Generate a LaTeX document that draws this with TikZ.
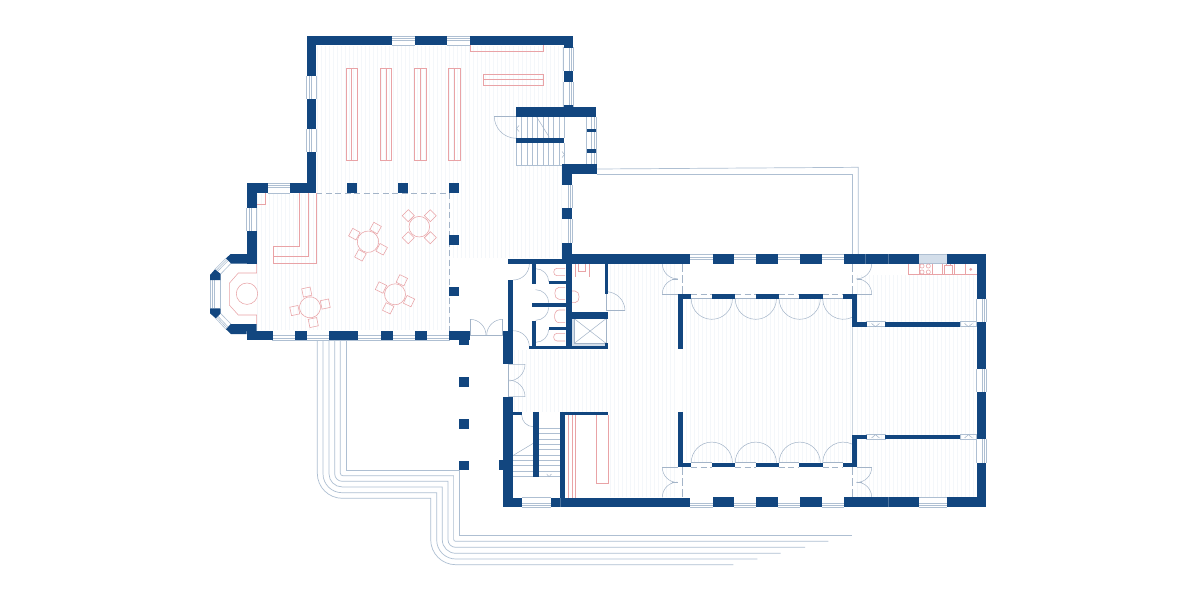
\documentclass[tikz,border=0pt]{standalone}
\definecolor{wall}{HTML}{12467F}
\definecolor{thin}{HTML}{AEBFD2}
\definecolor{doorc}{HTML}{A3B4C8}
\definecolor{rd}{HTML}{E9A3A6}
\definecolor{hatchc}{HTML}{F4F7FA}
\definecolor{glassf}{HTML}{D3DEEA}
\tikzset{
  wl/.style={fill=wall,draw=none},
  win/.style={draw=thin,line width=.6pt},
  door/.style={draw=doorc,line width=.5pt},
  red/.style={draw=rd,line width=.55pt},
  garden/.style={draw=thin,line width=.7pt},
  dsh/.style={draw=doorc,line width=.6pt,dash pattern=on 6pt off 3.5pt},
  hat/.style={draw=hatchc,line width=.3pt}
}
\newcommand\W[4]{\fill[wl] (#1,#2) rectangle (#3,#4);}
\newcommand\HW[4]{\foreach \k in {0,1,2}{\draw[win] (#1,{#3+#4*\k*2.2}) -- (#2,{#3+#4*\k*2.2});}}
\newcommand\VW[4]{\foreach \k in {0,1,2}{\draw[win] ({#3+#4*\k*2.2},#1) -- ({#3+#4*\k*2.2},#2);}}
\newcommand\HAT[4]{\pgfmathtruncatemacro\hn{(#3-#1)/4}\foreach \i in {0,...,\hn}{\draw[hat] ({#1+\i*4},#2) -- ({#1+\i*4},#4);}}
\newcommand\GL[7]{\draw[garden] (#1,340) -- (#1,{#2-#6}) arc[start angle=180,end angle=90,radius=#6] -- (#3,#2) -- (#3,{#4-#7}) arc[start angle=180,end angle=90,radius=#7] -- (#5,#4);}
\newcommand\TB[4]{\begin{scope}[shift={(#1,#2)},rotate=#3]
 \draw[red] (0,0) circle (#4);
 \foreach \a in {0,90,180,270}{\draw[red,rotate=\a] (11.4,-4.3) rectangle (19.8,4.3);}
 \end{scope}}
\begin{document}
\begin{tikzpicture}[x=1pt,y=1pt,yscale=-1]
\useasboundingbox (0,0) rectangle (1200,600);
\fill[white] (0,0) rectangle (1200,600);
% --- floor hatching ---
\HAT{317}{46}{514}{193}
\HAT{518}{46}{562}{107}
\HAT{257}{194}{449}{330}
\HAT{453}{166}{561}{258}
\HAT{514}{350}{676}{412}
\HAT{610}{264}{676}{350}
\HAT{610}{412}{676}{497}
\HAT{682}{299}{850}{462}
\HAT{857}{275}{976}{497}
% --- garden lines ---
\GL{340.3}{475.7}{453.6}{541.3}{828.3}{2.5}{2}
\GL{334.7}{481.3}{448}{547.3}{805}{7.5}{7.5}
\GL{329}{486.9}{442.3}{553.3}{780.7}{13}{13.5}
\GL{323}{492.7}{436.7}{559}{757.3}{19}{19}
\GL{317.3}{498.3}{430.7}{564.7}{733.3}{25}{25}
\draw[garden] (346,340) -- (346,470.3) -- (459.5,470.3) -- (459.5,535.3) -- (852.3,535.3);
\draw[garden] (596.7,169) -- (858.3,167.3) -- (858.3,254);
\draw[garden] (596.7,174.3) -- (852.3,174.3) -- (852.3,254);
% --- windows: north wing ---
\HW{392}{415}{36}{1}\draw[win] (392,45.3)--(415,45.3);
\HW{447}{470}{36}{1}\draw[win] (447,45.3)--(470,45.3);
\VW{76}{99}{306.7}{1}\draw[win] (316.3,76)--(316.3,99);
\VW{129}{152}{306.7}{1}\draw[win] (316.3,129)--(316.3,152);
\VW{47}{71}{573.3}{-1}\draw[win] (563.7,47)--(563.7,71);
\VW{82}{107}{573.3}{-1}\draw[win] (563.7,82)--(563.7,107);
\VW{117}{165}{596}{-1}\draw[win] (586.7,117)--(586.7,165);
\VW{185}{208.3}{568.3}{1}
\VW{219.3}{242.7}{568.3}{1}
% --- windows: west wing ---
\HW{267.7}{290.3}{183.3}{1}\draw[win] (267.7,193.3)--(290.3,193.3);
\VW{208}{231}{246.7}{1}\draw[win] (256.7,208)--(256.7,231);
\VW{280}{308.3}{210}{1}\draw[win] (220.7,280)--(220.7,308.3);
\foreach \t in {0,.22,.44,1}{
 \draw[win] ({215+\t*5.7},{269.3+\t*4.7}) -- ({226+\t*5},{258.3+\t*5});
 \draw[win] ({215.7+\t*5},{318.3-\t*4.8}) -- ({226+\t*5},{329.3-\t*5.2});
}
\HW{272}{449.5}{340}{-1}
% --- windows: main hall ---
\foreach \a/\b in {690/712.7,734/756.3,777.7/800.3,821.7/844.3}{
 \HW{\a}{\b}{254.7}{1}
 \HW{\a}{\b}{507.3}{-1}
}
\fill[glassf] (918.7,254) rectangle (947,262.7);
\draw[win] (918.7,254)--(947,254) (918.7,263.7)--(947,263.7);
\HW{918.7}{947}{507.3}{-1}\draw[win] (918.7,497.3)--(947,497.3);
\HW{522.3}{550.7}{507.3}{-1}\draw[win] (522.3,497.7)--(550.7,497.7);
\VW{298.7}{321.7}{986.3}{-1}\draw[win] (976.7,298.7)--(976.7,321.7);
\VW{369}{392}{986.3}{-1}\draw[win] (976.7,369)--(976.7,392);
\VW{439.3}{462.7}{986.3}{-1}\draw[win] (976.7,439.3)--(976.7,462.7);
% internal windows
\foreach \xa/\xb in {866.7/885,960/976.7}{
  \draw[win,line width=.45pt] (\xa,321.7) rectangle (\xb,326.7);
  \draw[win,line width=.45pt] (\xa,434.7) rectangle (\xb,439.3);
}
\foreach \xm in {875.5,968.5}{
  \draw[door] (\xm-4,323.4) -- (\xm,326.7) -- (\xm+4,323.4);
  \draw[door] (\xm-4,438) -- (\xm,434.7) -- (\xm+4,438);
}
% thin lines / dashed in hall
\foreach \a/\b in {691.3/712,735/755.7,778.7/799.3,822.7/843.3}{
 \draw[door] (\a,298.7)--(\b,298.7);
 \draw[door] (\a,462.7)--(\b,462.7);
 \draw[dsh] (\a,294.3)--(\b,294.3);
 \draw[dsh] (\a,467.3)--(\b,467.3);
}
\draw[draw=glassf!90!gray,line width=.9pt] (852.2,326) -- (852.2,435);
\draw[dsh,dash pattern=on 8pt off 3pt] (682.3,264)--(682.3,294);
\draw[dsh,dash pattern=on 8pt off 3pt] (682.3,467)--(682.3,497);
\draw[dsh,dash pattern=on 8pt off 3pt] (852.2,264)--(852.2,294);
\draw[dsh,dash pattern=on 8pt off 3pt] (852.2,467)--(852.2,497);
% cafe dashed
\draw[dsh] (316.3,193.3)--(449.5,193.3);
\draw[dsh] (449.7,193.3)--(449.7,330.7);
% --- red furniture ---
\draw[red] (256.7,204.3)--(265.7,204.3)--(265.7,193.3);
\draw[red] (316.3,193.3)--(316.3,263.3)--(273,263.3)--(273,246.3)--(299.7,246.3)--(299.7,193.3);
\draw[red] (308.7,193.3)--(308.7,256)--(273,256);
\draw[red] (256.7,263.3)--(256.7,273)--(238.3,273)--(229.3,283.3)--(229.3,305)--(238.3,315)--(256.7,315)--(256.7,324);
\draw[red] (247,293.7) circle (10.7);
\TB{368}{241.7}{29}{10.7}
\TB{419.3}{226.7}{45}{10.3}
\TB{395}{294.3}{26}{10.5}
\TB{310}{307.3}{-12}{10.5}
\foreach \a/\b in {346/357.3,380.3/391.7,414.3/426.3,448.3/460.3}{
 \draw[red] (\a,68.3) rectangle (\b,160.3);
 \draw[red] ({(\a+\b)/2},68.3) -- ({(\a+\b)/2},160.3);
}
\draw[red] (470.3,45.3) -- (470.3,51.3) -- (543.3,51.3) -- (543.3,45.3);
\draw[red] (483.3,74.3) rectangle (543.3,85.3);
\draw[red] (483.3,79.7) -- (543.3,79.7);
\draw[red] (568.3,415)--(568.3,497.7) (572.3,415)--(572.3,497.7) (575.7,415)--(575.7,497.7);
\draw[red] (596.3,415)--(596.3,483.3)--(608.3,483.3)--(608.3,415);
% kitchen
\draw[red] (908.3,263.7)--(908.3,274.3)--(976.7,274.3);
\foreach \x in {919,932,942.3,954,965}{\draw[red] (\x,263.7)--(\x,274.3);}
\foreach \x in {922,928.3}{\foreach \y in {266,272}{\draw[red] (\x,\y) circle (2.1);}}
\draw[red] (944,265.7) rectangle (952.7,274);
\draw[red] (946,263.7)--(946,265.7) (950.5,263.7)--(950.5,265.7);
\fill[rd] (970.7,269.3) circle (1.5);
% toilets
\draw[red] (565,268.3)--(557,268.3) to[out=180,in=180,looseness=1.5] (557,275.7)--(565,275.7);
\draw[red] (565,287.3)--(559,287.3) to[out=180,in=180,looseness=1.2] (559,299.3)--(565,299.3);
\draw[red] (565,310)--(559,310) to[out=180,in=180,looseness=1.2] (559,322.7)--(565,322.7);
\draw[red] (565,333.3)--(557,333.3) to[out=180,in=180,looseness=1.5] (557,341)--(565,341);
\draw[red] (571,291)--(575,291) to[out=0,in=0,looseness=1.2] (575,302.7)--(571,302.7);
\draw[red] (575,264)--(575,276.7) (589,264)--(589,276.7);
\draw[red] (578.3,264)--(578.3,271.7)--(585,271.7)--(585,264);
% elevator
\fill[glassf] (571.7,316.7) rectangle (606,347.3);
\fill[white] (574.3,318.7) rectangle (606,343.3);
\draw[door] (574.3,318.7) rectangle (606,343.3);
\draw[door] (574.3,318.7)--(606,343.3) (606,318.7)--(574.3,343.3);
% --- stairs north ---
\foreach \i in {0,...,9}{
 \draw[win] ({516.3+\i*5.33},117)--({516.3+\i*5.33},138.3);
 \draw[win] ({516.3+\i*5.33},143.3)--({516.3+\i*5.33},165);
}
\draw[win] (516.3,165)--(564,165);
\draw[door] (536.7,117)--(549.3,137.3);
\draw[door] (519,125.5)--(516.5,128.5)--(519,131.5);
\draw[door] (562,151.5)--(564.5,154.5)--(562,157.5);
% --- stairs south ---
\foreach \i in {0,...,9}{\draw[win] (539,{428.3+\i*5.33})--(559.7,{428.3+\i*5.33});}
\foreach \i in {5,...,9}{\draw[win] (513.3,{428.3+\i*5.33})--(533.3,{428.3+\i*5.33});}
\draw[door] (513.3,455.3)--(533.3,443.3);
\draw[door] (546.7,474)--(549,476.7)--(551.5,474);
% --- doors ---
\draw[door] (494.3,116.7)--(516.3,116.7);
\draw[door] (516.3,138.3) arc[start angle=90,end angle=180,radius=22];
\draw[door] (529.3,264) arc[start angle=0,end angle=90,radius=16];
\draw[door] (470,335)--(502.7,335) (470,335)--(470,319.3) (502.7,335)--(502.7,319.3);
\draw[door] (470,319.3) arc[start angle=-90,end angle=0,radius=16];
\draw[door] (502.7,319.3) arc[start angle=-90,end angle=-180,radius=16];
\draw[door] (513.3,330.7) arc[start angle=-90,end angle=0,radius=16];
\draw[door] (508.3,364.3)--(525,364.3) arc[start angle=0,end angle=90,radius=16.7];
\draw[door] (508.3,396.7)--(525,396.7) arc[start angle=0,end angle=-90,radius=16.7];
\draw[door] (508.3,364.3)--(508.3,396.7);
\draw[door] (521.7,415) arc[start angle=180,end angle=90,radius=11.7];
\draw[door] (606,294.3)--(606,310.7)--(625,310.7);
\draw[door] (606,291.7) arc[start angle=-90,end angle=0,radius=19];
% wc doors
\draw[door] (535.7,268.7) arc[start angle=-90,end angle=0,radius=13];
\draw[door] (535.7,289.7) arc[start angle=-90,end angle=0,radius=13];
\draw[door] (548.7,307.3) arc[start angle=0,end angle=90,radius=13];
\draw[door] (548.7,329.3) arc[start angle=0,end angle=90,radius=13];
% hall double doors
\foreach \yt/\yb in {263.7/294,467.3/497.3}{
 \draw[door] (662.3,\yt) arc[start angle=180,end angle=90,radius=15.2];
 \draw[door] (662.3,\yb) arc[start angle=180,end angle=270,radius=15.2];
 \draw[door] (871.7,\yt) arc[start angle=0,end angle=90,radius=15.2];
 \draw[door] (871.7,\yb) arc[start angle=0,end angle=-90,radius=15.2];
 \draw[door] (856.7,{(\yt+\yb)/2})--(862,{(\yt+\yb)/2});
 \draw[door] (672,{(\yt+\yb)/2})--(677.7,{(\yt+\yb)/2});
}
\draw[door] (662.3,294)--(677.7,294) (856.7,294)--(871.7,294);
\draw[door] (662.3,467.3)--(677.7,467.3) (856.7,467.3)--(871.7,467.3);
% hall french doors
\foreach \cx in {711.8,755.8,799.7}{
 \draw[door] ({\cx-20.6},298.7) arc[start angle=180,end angle=0,radius=20.6];
 \draw[door] ({\cx-20.6},462.7) arc[start angle=180,end angle=360,radius=20.6];
}
\draw[door] (822.7,298.7) arc[start angle=180,end angle=65,radius=20.6];
\draw[door] (822.7,462.7) arc[start angle=180,end angle=295,radius=20.6];
% --- walls: north wing ---
\W{306.7}{36}{392}{45.3}\W{415}{36}{447.3}{45.3}\W{470}{36}{573.3}{45.3}
\W{306.7}{36}{316.3}{76}\W{306.7}{99}{316.3}{129}\W{306.7}{152}{316.3}{193.3}
\W{563.7}{36}{573.3}{47.7}\W{563.7}{71}{573.3}{82.3}\W{563.7}{105}{573.3}{108}
\W{516.3}{107.3}{596.3}{117}\W{516.3}{138.3}{564.3}{143.3}
\W{586.7}{128.7}{596}{132}\W{586.7}{149.3}{596}{153.3}
\W{562.3}{164.3}{596.7}{174.3}\W{562.3}{164.3}{572.3}{185.3}
\W{562.3}{208.3}{572.3}{219.3}\W{562.3}{242.7}{572.3}{254}
% piers
\W{347}{183.3}{356.7}{193.3}\W{398.3}{183.3}{408}{193.3}\W{449.3}{183.3}{459.3}{193.3}
\W{449.3}{235}{459.3}{244.7}\W{449.3}{286.7}{459.3}{296}
% west wing
\W{246.7}{183.3}{267.7}{193.3}\W{246.7}{183.3}{256.7}{208}\W{246.7}{231}{256.7}{263.5}
\W{290.3}{183.3}{316.3}{193.3}
\fill[wl] (226,258.3)--(230.7,254)--(256.7,254)--(256.7,263.5)--(231,263.5)--cycle;
\fill[wl] (215,269.3)--(220.7,274)--(220.7,280)--(210,280)--(210,275)--cycle;
\fill[wl] (210,308.3)--(220.7,308.3)--(220.7,313.3)--(215.7,318.3)--(210,313.3)--cycle;
\fill[wl] (226,329.3)--(230.7,324)--(256.7,324)--(256.7,331)--(246.7,331)--(246.7,334)--(231,334)--cycle;
\W{246.7}{330.7}{272.7}{340}\W{295.3}{330.7}{306.7}{340}\W{329.3}{330.7}{358.3}{340}
\W{381}{330.7}{392.7}{340}\W{415}{330.7}{426.7}{340}\W{449.3}{330.7}{470}{340}
\W{459.3}{340}{469.3}{345.3}
\W{459.3}{376.7}{469}{386.7}\W{459.3}{419}{469}{428.7}\W{459.3}{460.7}{469}{470.3}
% --- main hall perimeter ---
\W{508.3}{258.7}{562.7}{264}\W{562.3}{254}{690}{263.7}
\W{712.7}{254}{734}{263.7}\W{756.3}{254}{777.7}{263.7}\W{800.3}{254}{821.7}{263.7}
\W{844.3}{254}{918.7}{263.7}\W{947}{254}{986.3}{263.7}
\W{976.7}{254}{986.3}{298.7}\W{976.7}{321.7}{986.3}{369}\W{976.7}{392}{986.3}{439.3}\W{976.7}{462.7}{986.3}{507.3}
\W{503.3}{497.7}{522.3}{507.3}\W{550.7}{497.7}{690}{507.3}
\W{712.7}{497.3}{734}{507.3}\W{756.3}{497.3}{777.7}{507.3}\W{800.3}{497.3}{821.7}{507.3}
\W{844.3}{497.3}{918.7}{507.3}\W{947}{497.3}{986.3}{507.3}
\W{503.3}{396.7}{513.3}{507.3}\W{499.3}{460}{503.3}{470}
\W{508.3}{280}{513.3}{330.7}\W{502.7}{330.7}{513.3}{348.3}\W{503.3}{348.3}{513.3}{364.3}
% south service block
\W{513.3}{412}{521.7}{415}\W{533.3}{412}{539}{476.7}\W{559.7}{412}{564.7}{497.7}\W{559.7}{412}{608.3}{415}
% hall inner rows
\foreach \yy/\yz in {294/298.7,462.7/467.3}{
 \W{677.7}{\yy}{691.3}{\yz}\W{712}{\yy}{735}{\yz}\W{755.7}{\yy}{778.7}{\yz}\W{799.3}{\yy}{822.7}{\yz}\W{843.3}{\yy}{856.7}{\yz}
}
\W{677.7}{294.3}{682.7}{349.3}\W{677.7}{412}{682.7}{467.3}
\W{852}{294}{856.7}{326.7}\W{852}{434.7}{856.7}{467.3}
\W{852}{321.7}{866.7}{326.7}\W{885}{321.7}{960}{326.7}
\W{852}{434.7}{866.7}{439.3}\W{885}{434.7}{960}{439.3}
% --- toilets ---
\W{532.3}{264}{535.7}{284}\W{532.3}{302.7}{566}{307.3}\W{532.3}{321}{535.7}{349}
\W{549.3}{280.7}{566}{284}\W{549.3}{326.7}{566}{329.7}
\W{529.3}{346}{608.3}{349.3}
\W{565.7}{254}{572.3}{349.3}
\W{570.7}{311.7}{608.3}{318.5}
\W{605}{264}{608.3}{294}\W{605}{343.3}{608.3}{349.3}
% wall seams
\draw[draw=wall!75!white,line width=.3pt] (865.3,254)--(865.3,263.7) (888.3,254)--(888.3,263.7) (888.3,497.3)--(888.3,507.3) (559.7,497.7)--(559.7,507.3);
\end{tikzpicture}
\end{document}
